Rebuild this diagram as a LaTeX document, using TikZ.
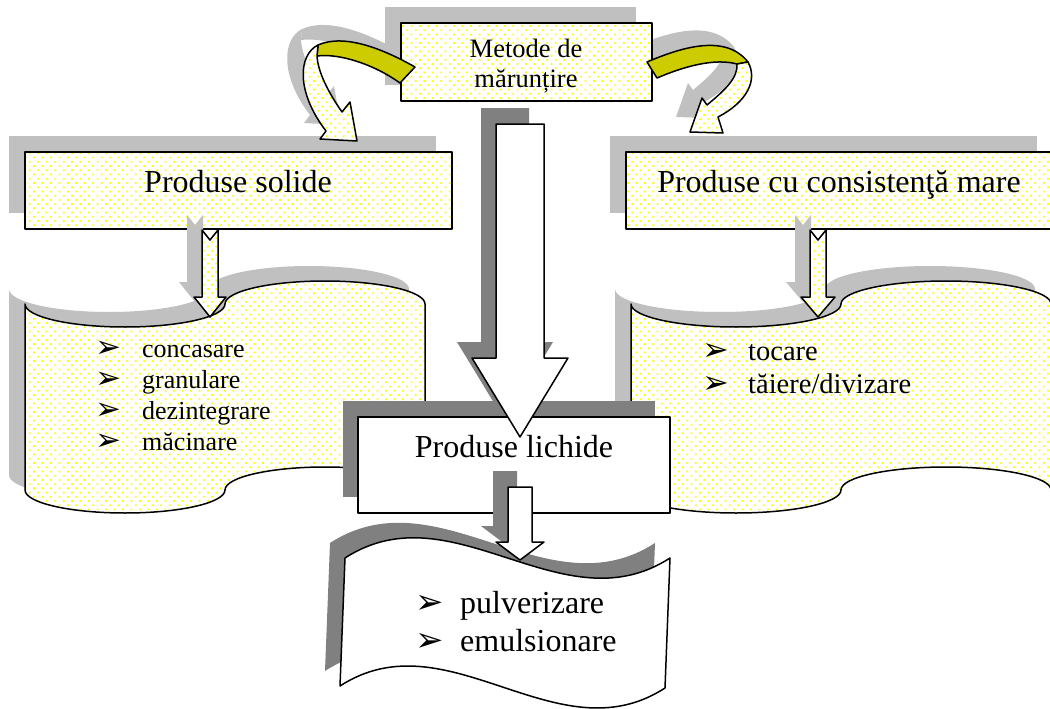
\documentclass[tikz,border=0pt]{standalone}
\usepackage{fontspec}
\setmainfont{Liberation Serif}
\newfontfamily\dejavu{DejaVu Sans}
\usetikzlibrary{patterns.meta}
\definecolor{shl}{RGB}{192,192,192}
\definecolor{shd}{RGB}{128,128,128}
\definecolor{olv}{RGB}{204,204,0}
\newcommand\fsz[1]{\fontsize{#1}{#1}\selectfont}
\newcommand\bulx[1]{{\dejavu\fontsize{#1}{#1}\selectfont\char"27A2}}
% paths (pixel coordinates, y downwards)
\def\pLW{(25,304) .. controls (25,316.7) and (69.8,327) .. (125,327) .. controls (180.2,327) and (225,316.7) .. (225,304) .. controls (225,291.3) and (269.8,281) .. (325,281) .. controls (380.2,281) and (425,291.3) .. (425,304) -- (425,490) .. controls (425,477.3) and (380.2,467) .. (325,467) .. controls (269.8,467) and (225,477.3) .. (225,490) .. controls (225,502.7) and (180.2,513) .. (125,513) .. controls (69.8,513) and (25,502.7) .. (25,490) -- cycle}
\def\pRW{(631,304) .. controls (631,316.7) and (678,327) .. (736,327) .. controls (794,327) and (841,316.7) .. (841,304) .. controls (841,291.3) and (888,281) .. (946,281) .. controls (1004,281) and (1051,291.3) .. (1051,304) -- (1051,490) .. controls (1051,477.3) and (1004,467) .. (946,467) .. controls (888,467) and (841,477.3) .. (841,490) .. controls (841,502.7) and (794,513) .. (736,513) .. controls (678,513) and (631,502.7) .. (631,490) -- cycle}
\def\pBW{(345,558) .. controls (453,488) and (562,628) .. (670,558) -- (665,688) .. controls (557,758) and (448,616) .. (340,686) -- cycle}
\def\pAL{(202,230) -- (210,240) -- (218,230) -- (218,297) -- (226,297) -- (210,317) -- (194,297) -- (202,297) -- cycle}
\def\pAR{(810,230) -- (818,240) -- (826,230) -- (826,297) -- (835,297) -- (818,317) -- (801,297) -- (810,297) -- cycle}
\def\pAB{(508,487) -- (532,487) -- (532,542) -- (544,542) -- (520,560) -- (496,542) -- (508,542) -- cycle}
\def\pBig{(496,124) -- (544,124) -- (544,358) -- (568,358) -- (520,437) -- (472,358) -- (496,358) -- cycle}
\def\pOL{(415,67) .. controls (385,50) and (345,33) .. (318,45) -- (317,56) .. controls (340,53) and (375,65) .. (400,83) -- cycle}
\def\pDL{(318,45) .. controls (298,55) and (296,92) .. (326,131) -- (320,139) -- (357,141) -- (350,102) -- (342,112) .. controls (328,92) and (318,72) .. (317,56) -- cycle}
\def\pOR{(647,62) .. controls (680,48) and (725,33) .. (748,62) -- (737,64) .. controls (715,58) and (685,66) .. (657,78) -- cycle}
\def\pDR{(748,62) .. controls (758,80) and (747,102) .. (718,117) -- (723,133) -- (690,132) -- (702,98) -- (707,105) .. controls (725,90) and (738,78) .. (737,64) -- cycle}
\begin{document}
\begin{tikzpicture}[x=1pt,y=-1pt,
  dotbox/.style={preaction={fill=white}, pattern={Dots[distance=6pt,radius=1.25pt,angle=45]}, pattern color=yellow, draw=black, line width=1.5pt, line join=round},
  whitebox/.style={fill=white, draw=black, line width=1.5pt, line join=round},
  olivebox/.style={fill=olv, draw=black, line width=1.5pt, line join=round},
  lightsh/.style={fill=shl},
  darksh/.style={fill=shd},
  txt/.style={inner sep=0pt, anchor=base},
  item/.style={inner sep=0pt, anchor=base west}]
\useasboundingbox (0,0) rectangle (1050,709);
\clip (0,0) rectangle (1050,709);
% top level boxes
\fill[lightsh] (9,136) rectangle (436,213);
\draw[dotbox] (25,152) rectangle (452,229);
\fill[lightsh] (610,136) rectangle (1037,213);
\draw[dotbox] (626,152) rectangle (1053,229);
\node[txt, font=\fsz{32}] (ps) at (238,192) {Produse solide};
\node[txt, font=\fsz{32}] (pc) at (839,192) {Produse cu consistenţă mare};
% wave boxes left and right
\fill[lightsh, shift={(-15,-15)}] \pAL;
\fill[lightsh, shift={(-15,-15)}] \pAR;
\fill[lightsh, shift={(-16,-15)}] \pLW;
\fill[lightsh, shift={(-16,-15)}] \pRW;
\draw[dotbox] \pLW;
\draw[dotbox] \pRW;
\draw[dotbox] \pAL;
\draw[dotbox] \pAR;
\node[item, font=\fsz{26}] (l1) at (95,357) {\makebox[47pt][l]{\bulx{31}}concasare};
\node[item, font=\fsz{26}] (l2) at (95,388) {\makebox[47pt][l]{\bulx{31}}granulare};
\node[item, font=\fsz{26}] (l3) at (95,419) {\makebox[47pt][l]{\bulx{31}}dezintegrare};
\node[item, font=\fsz{26}] (l4) at (95,450) {\makebox[47pt][l]{\bulx{31}}măcinare};
\node[item, font=\fsz{28.5}] (r1) at (702,360) {\makebox[46pt][l]{\bulx{32}}tocare};
\node[item, font=\fsz{28.5}] (r2) at (702,393) {\makebox[46pt][l]{\bulx{32}}tăiere/divizare};
% liquid products
\fill[darksh, shift={(-15,-16)}] \pBig;
\fill[darksh] (343,401) rectangle (655,497);
\draw[whitebox] (358,417) rectangle (670,513);
\draw[whitebox] \pBig;
\node[txt, font=\fsz{32}] (pl) at (514,457) {Produse lichide};
\fill[darksh, shift={(-15,-15)}] \pBW;
\draw[whitebox] \pBW;
\fill[darksh, shift={(-15,-16)}] \pAB;
\draw[whitebox] \pAB;
\node[item, font=\fsz{32}] (b1) at (415,613) {\makebox[45pt][l]{\bulx{34}}pulverizare};
\node[item, font=\fsz{32}] (b2) at (415,651) {\makebox[45pt][l]{\bulx{34}}emulsionare};
% top box and curved arrows
\fill[lightsh] (385,7) rectangle (636,85);
\fill[lightsh, shift={(-16,-16)}] \pOL;
\fill[lightsh, shift={(-16,-16)}] \pDL;
\fill[lightsh, shift={(-14,-15)}] \pOR;
\fill[lightsh, shift={(-14,-15)}] \pDR;
\draw[dotbox] (401,23) rectangle (652,101);
\draw[olivebox] \pOL;
\draw[dotbox] \pDL;
\draw[olivebox] \pOR;
\draw[dotbox] \pDR;
\node[txt, font=\fsz{26.5}] (m1) at (526,58) {Metode de};
\node[txt, font=\fsz{26.5}] (m2) at (526,88) {mărunțire};
\end{tikzpicture}
\end{document}
